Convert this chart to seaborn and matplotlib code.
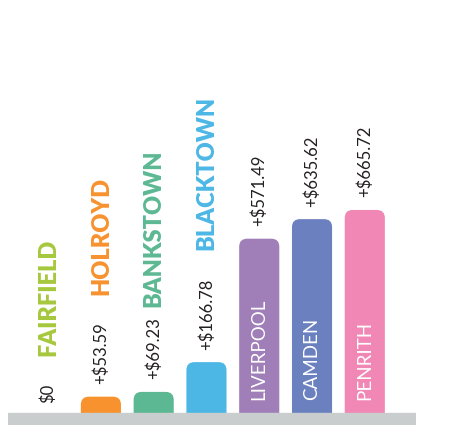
import matplotlib
matplotlib.use("Agg")
import matplotlib.pyplot as plt
from matplotlib.patches import FancyBboxPatch
import seaborn as sns

# Data
suburbs = ["FAIRFIELD", "HOLROYD", "BANKSTOWN", "BLACKTOWN", "LIVERPOOL", "CAMDEN", "PENRITH"]
increase = [0.0, 53.59, 69.23, 166.78, 571.49, 635.62, 665.72]
value_labels = ["$0", "+$53.59", "+$69.23", "+$166.78", "+$571.49", "+$635.62", "+$665.72"]

# Style
colors = ["#a6c83c", "#f7922f", "#5cb893", "#4cb7e5", "#a07fb8", "#6b80bf", "#f087b5"]
name_gap_pt = [20, 20, 8, 20, 0, 0, 0]
base_grey = "#c9cdcd"
inside_threshold = 300

sns.set_theme(style="white")
plt.rcParams["font.family"] = ["Lato", "DejaVu Sans"]

W, H = 459, 428
fig = plt.figure(figsize=(W / 100, H / 100), dpi=100)
ax = fig.add_axes([8 / W, 3 / H, 408 / W, 415 / H])

sns.barplot(ax=ax, x=suburbs, y=increase, hue=suburbs, palette=colors,
            legend=False, width=0.76, saturation=1)

px_per_dollar = 0.305
ymin = -12 / px_per_dollar
ymax = ymin + 415 / px_per_dollar
ax.set_xlim(-0.76, 6.97)
ax.set_ylim(ymin, ymax)
ax.axis("off")

# swap the square bars for ones with rounded tops
p0 = ax.transData.transform((0, 0))
p1 = ax.transData.transform((1, 1))
sx, sy = p1[0] - p0[0], p1[1] - p0[1]
r_x = 8 / sx
bars = list(ax.patches)
for b in bars:
    x, w, h = b.get_x(), b.get_width(), b.get_height()
    col = b.get_facecolor()
    b.remove()
    if h <= 0:
        continue
    ax.add_patch(FancyBboxPatch((x, ymin), w, h - ymin,
                                boxstyle="round,pad=0,rounding_size=%f" % r_x,
                                mutation_aspect=sx / sy, facecolor=col,
                                edgecolor="none", zorder=2))

ax.axhspan(ymin, 0, color=base_grey, zorder=3)

for i, (name, v, lab) in enumerate(zip(suburbs, increase, value_labels)):
    off = 7 if v == 0 else 9
    val = ax.annotate(lab, xy=(i, v), xytext=(0, off), textcoords="offset points",
                      rotation=90, ha="center", va="bottom", fontsize=12,
                      fontweight="normal", color="#231f20")
    if v > inside_threshold:
        ax.annotate(name, xy=(i, 0), xytext=(0, 9.5), textcoords="offset points",
                    rotation=90, ha="center", va="bottom", fontsize=13.5,
                    color="white", zorder=4)
    else:
        ax.annotate(name, xy=(0.5, 1), xycoords=val, xytext=(0, name_gap_pt[i]),
                    textcoords="offset points", rotation=90, ha="center",
                    va="bottom", fontsize=17, fontweight="heavy", color=colors[i])

fig.savefig("out.png", dpi=100)
